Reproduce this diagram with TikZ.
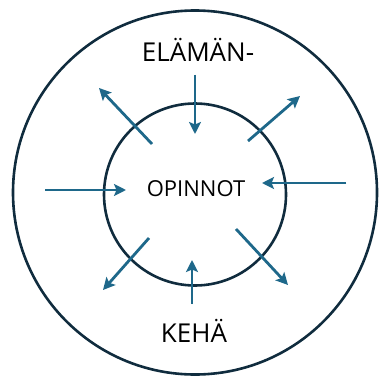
\documentclass[tikz,border=0pt]{standalone}
\usepackage{fontspec}
\setmainfont{Open Sans}
\usetikzlibrary{arrows.meta}
\definecolor{ring}{RGB}{16,44,62}
\definecolor{flow}{RGB}{30,104,138}

\begin{document}
\begin{tikzpicture}[
  x=1pt, y=-1pt,
  >={Stealth[length=12pt, width=12pt, inset=2.5pt]},
  kehys/.style={draw=ring, line width=2.6pt},
  nuoli/.style={->, draw=flow, fill=flow, line width=2.8pt},
  otsikko/.style={font=\fontsize{26}{29}\selectfont, inner sep=0pt},
]
\useasboundingbox (0,0) rectangle (379,377);

% ---- the two rings ----
\node[kehys, circle, minimum size=364pt, inner sep=0pt] (ULKO) at (195,192.5) {};
\node[kehys, circle, minimum size=182pt, inner sep=0pt] (SISA) at (195,194.5) {};

% ---- texts ----
\node[font=\fontsize{22}{25}\selectfont, inner sep=0pt] (OP) at (196,189) {OPINNOT};
\node[otsikko] (EL) at (198,50) {ELÄMÄN-};
\node[otsikko] (KE) at (194,331) {KEHÄ};

% ---- arrow end points ----
\coordinate (a1) at (195,75);   \coordinate (b1) at (195,134);
\coordinate (a2) at (152,144);  \coordinate (b2) at (99,88);
\coordinate (a3) at (248,141);  \coordinate (b3) at (300,96);
\coordinate (a4) at (45,190);   \coordinate (b4) at (126,190);
\coordinate (a5) at (346,183);  \coordinate (b5) at (262,183);
\coordinate (a6) at (149,238);  \coordinate (b6) at (103,290);
\coordinate (a7) at (192,304);  \coordinate (b7) at (192,260);
\coordinate (a8) at (236,229);  \coordinate (b8) at (288,285);

% ============ arrows ============
\foreach \i in {1,...,8}
  \draw[nuoli] (a\i) -- (b\i);

\end{tikzpicture}
\end{document}
